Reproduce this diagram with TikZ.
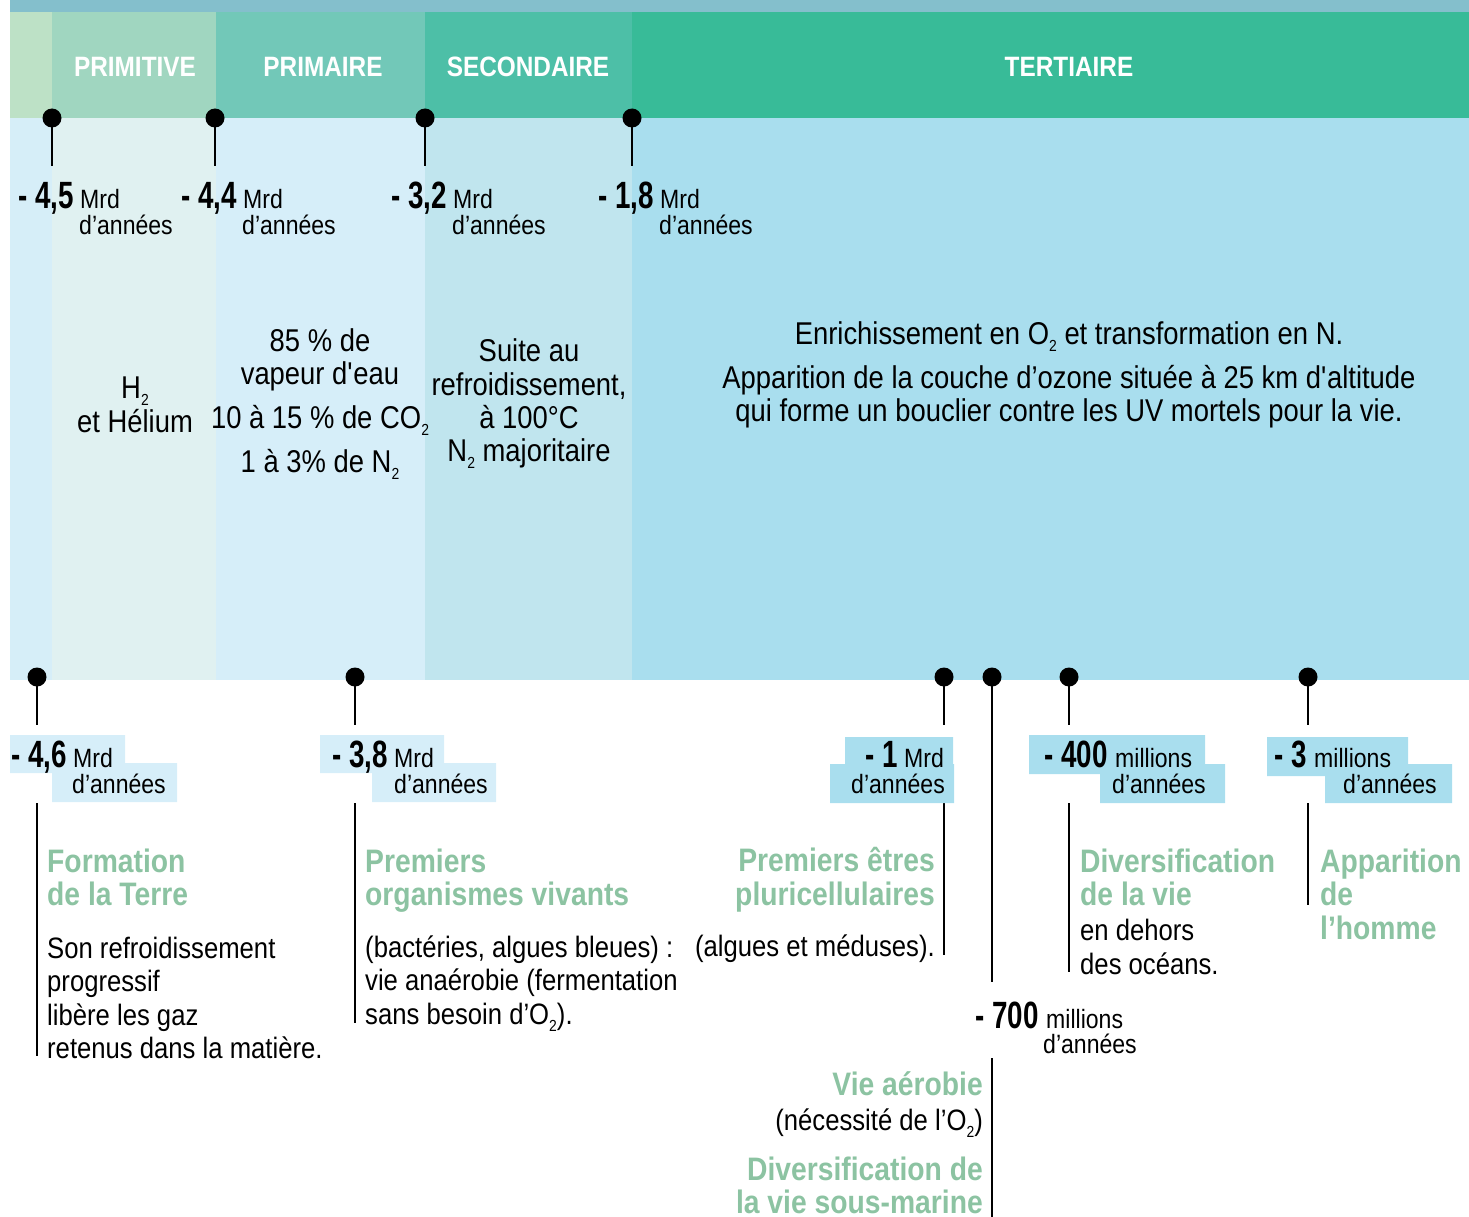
\documentclass[tikz,border=0pt]{standalone}
\usepackage{fontspec}
\setmainfont{Liberation Sans}[FakeStretch=0.87]
\newfontfamily\numfont{Liberation Sans}[FakeStretch=0.73]
\usetikzlibrary{positioning}
\definecolor{stripcol}{HTML}{84BFCC}
\definecolor{hdA}{HTML}{BDE1C6}
\definecolor{hdB}{HTML}{A0D6C0}
\definecolor{hdC}{HTML}{72C8B8}
\definecolor{hdD}{HTML}{4DBFA7}
\definecolor{hdE}{HTML}{38BB98}
\definecolor{bdA}{HTML}{D6EEF8}
\definecolor{bdB}{HTML}{E0F1F1}
\definecolor{bdC}{HTML}{D6EEF9}
\definecolor{bdD}{HTML}{C0E5EE}
\definecolor{bdE}{HTML}{A9DEEE}
\definecolor{titlegreen}{HTML}{8CC3A2}
\newcommand\chemsub[1]{\raisebox{-0.45ex}{\fontsize{16}{16}\selectfont #1}}
\begin{document}
\begin{tikzpicture}[x=1pt,y=-1pt,
  pindot/.style={circle,fill=black,inner sep=0pt,minimum size=19pt},
  stem/.style={line width=2.4pt},
  era/.style={text=white,font=\bfseries\fontsize{28}{28}\selectfont},
  gas/.style={anchor=base,inner sep=0pt,font=\fontsize{31.5}{31.5}\selectfont},
  num/.style={anchor=base east,inner sep=0pt,font=\numfont\bfseries\fontsize{38}{38}\selectfont},
  unit/.style={anchor=base west,inner sep=0pt,font=\fontsize{26.5}{26.5}\selectfont},
  event/.style={inner sep=0pt,text=titlegreen,font=\bfseries\fontsize{32.5}{32.5}\selectfont},
  body/.style={inner sep=0pt,font=\fontsize{29.5}{29.5}\selectfont}]
\useasboundingbox (0,0) rectangle (1469,1217);
% bands
\fill[stripcol] (10,0) rectangle (1469,12);
\foreach \xa/\xb/\ch/\cb in {10/52/hdA/bdA,52/216/hdB/bdB,216/425/hdC/bdC,425/632/hdD/bdD,632/1469/hdE/bdE}{
  \fill[\ch] (\xa,12) rectangle (\xb,118);
  \fill[\cb] (\xa,118) rectangle (\xb,680);
}
\node[era] (primitive) at (135,67) {PRIMITIVE};
\node[era] (primaire) at (323,67) {PRIMAIRE};
\node[era] (secondaire) at (528,67) {SECONDAIRE};
\node[era] (tertiaire) at (1069,67) {TERTIAIRE};
% upper pins
\foreach \x/\n/\v in {52/t45/{4,5},215/t44/{4,4},425/t32/{3,2},632/t18/{1,8}}{
  \coordinate (\n-foot) at (\x,166);
  \draw[stem] (\x,118) -- (\n-foot);
  \node[pindot] (\n) at (\x,118) {};
  \node[unit] (\n-mrd) at (\x+28,208) {Mrd};
  \node[num] (\n-val) at (\x+22,208) {- \v};
  \node[unit] (\n-ans) at (\x+27,234) {d’années};
}
% atmosphere
\node[gas] (h2) at (135,398) {H\chemsub{2}};
\node[gas] (helium) at (135,432) {et Hélium};
\node[gas] (vap1) at (320,351) {85 \% de};
\node[gas] (vap2) at (320,384) {vapeur d\textquotesingle eau};
\node[gas] (co2) at (320,428) {10 à 15 \% de CO\chemsub{2}};
\node[gas] (n2a) at (320,472) {1 à 3\% de N\chemsub{2}};
\node[gas] (suite1) at (529,361) {Suite au};
\node[gas] (suite2) at (529,395) {refroidissement,};
\node[gas] (suite3) at (529,428) {à 100°C};
\node[gas] (n2b) at (529,461) {N\chemsub{2} majoritaire};
\node[gas] (o2) at (1069,344) {Enrichissement en O\chemsub{2} et transformation en N.};
\node[gas] (ozone1) at (1069,388) {Apparition de la couche d’ozone située à 25 km d\textquotesingle altitude};
\node[gas] (ozone2) at (1069,421) {qui forme un bouclier contre les UV mortels pour la vie.};
% lower pins
\foreach \x/\n in {37/b46,355/b38,944/b1,1069/b400,1308/b3}{
  \coordinate (\n-top) at (\x,725);
  \coordinate (\n-down) at (\x,803);
  \draw[stem] (\x,677) -- (\n-top);
  \node[pindot] (\n) at (\x,677) {};
}
\coordinate (b700-top) at (992,982);
\draw[stem] (992,677) -- (b700-top);
\node[pindot] (b700) at (992,677) {};
\coordinate (b46-end) at (37,1056);
\coordinate (b38-end) at (355,1023);
\coordinate (b1-end) at (944,955);
\coordinate (b400-end) at (1069,972);
\coordinate (b3-end) at (1308,905);
\coordinate (b700-down) at (992,1058);
\coordinate (b700-end) at (992,1217);
\foreach \n in {b46,b38,b1,b400,b3,b700}
  \draw[stem] (\n-down) -- (\n-end);
% date boxes
\fill[bdC] (10,735) rectangle (125,773) (52,763) rectangle (177,802);
\fill[bdC] (320,735) rectangle (444,773) (372,763) rectangle (496,802);
\fill[bdE] (845,737) rectangle (953,774) (830,764) rectangle (954,803);
\fill[bdE] (1029,735) rectangle (1205,774) (1100,764) rectangle (1225,803);
\fill[bdE] (1267,737) rectangle (1408,776) (1325,764) rectangle (1452,803);
\node[num] (b46-val) at (67,767) {- 4,6};
\node[unit] (b46-mrd) at (73,767) {Mrd};
\node[unit] (b46-ans) at (72,793) {d’années};
\node[num] (b38-val) at (388,767) {- 3,8};
\node[unit] (b38-mrd) at (394,767) {Mrd};
\node[unit] (b38-ans) at (394,793) {d’années};
\node[num] (b1-val) at (898,767) {- 1};
\node[unit] (b1-mrd) at (904,767) {Mrd};
\node[unit,anchor=base east] (b1-ans) at (945,793) {d’années};
\node[num] (b400-val) at (1108,767) {- 400};
\node[unit] (b400-mio) at (1115,767) {millions};
\node[unit] (b400-ans) at (1112,793) {d’années};
\node[num] (b3-val) at (1307,767) {- 3};
\node[unit] (b3-mio) at (1314,767) {millions};
\node[unit] (b3-ans) at (1343,793) {d’années};
\node[num] (b700-val) at (1039,1028) {- 700};
\node[unit] (b700-mio) at (1046,1028) {millions};
\node[unit] (b700-ans) at (1043,1053) {d’années};
% events
\node[event,anchor=base west] (terre1) at (47,872) {Formation};
\node[event,anchor=base west] (terre2) at (47,905) {de la Terre};
\foreach \t [count=\i] in {Son refroidissement,progressif,libère les gaz,retenus dans la matière.}
  \node[body,anchor=base west] (terre-txt\i) at (47,924.5+33.5*\i) {\t};
\node[event,anchor=base west] (vivant1) at (365,872) {Premiers};
\node[event,anchor=base west] (vivant2) at (365,905) {organismes vivants};
\foreach \t [count=\i] in {{(bactéries, algues bleues) :},vie anaérobie (fermentation,sans besoin d’O\chemsub{2}).}
  \node[body,anchor=base west] (vivant-txt\i) at (365,923.5+33.5*\i) {\t};
\node[event,anchor=base east] (pluri1) at (935,871) {Premiers êtres};
\node[event,anchor=base east] (pluri2) at (935,905) {pluricellulaires};
\node[body,anchor=base east] (pluri-txt) at (935,956) {(algues et méduses).};
\node[event,anchor=base west] (diver1) at (1080,872) {Diversification};
\node[event,anchor=base west] (diver2) at (1080,905) {de la vie};
\node[body,anchor=base west] (diver-txt1) at (1080,940) {en dehors};
\node[body,anchor=base west] (diver-txt2) at (1080,974) {des océans.};
\node[event,anchor=base west] (homme1) at (1320,872) {Apparition};
\node[event,anchor=base west] (homme2) at (1320,905) {de};
\node[event,anchor=base west] (homme3) at (1320,939) {l’homme};
\node[event,anchor=base east] (aero1) at (983,1095) {Vie aérobie};
\node[body,anchor=base east] (aero-txt) at (983,1130) {(nécessité de l’O\chemsub{2})};
\node[event,anchor=base east] (marine1) at (983,1180) {Diversification de};
\node[event,anchor=base east] (marine2) at (983,1213) {la vie sous-marine};
\end{tikzpicture}
\end{document}
